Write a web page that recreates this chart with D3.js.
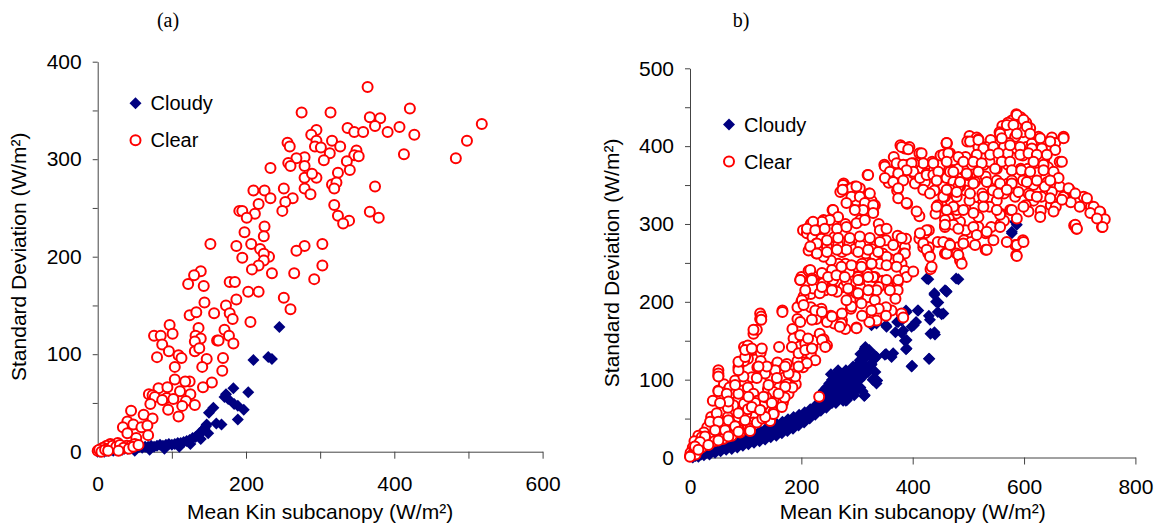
<!DOCTYPE html>
<html>
<head>
<meta charset="utf-8">
<script src="https://cdn.jsdelivr.net/npm/d3@7"></script>
<style>
  body { margin: 0; background: #fff; }
  svg text { font-family: "Liberation Sans", Arial, sans-serif; }
</style>
</head>
<body>
<div id="chart"></div>
<script>
// panel (a) values: [mean Kin, standard deviation]
var clearA = [[364,374],[275,348],[314,348],[421,352],[518,336],[367,343],[381,342],[374,334],[407,333],[337,332],[346,328],[358,328],[391,328],[427,325],[295,330],[288,325],[295,319],[316,319],[498,319],[256,317],[259,313],[327,313],[293,313],[301,312],[349,309],[313,306],[346,304],[352,303],[413,305],[483,301],[279,302],[268,301],[257,296],[260,293],[279,293],[305,299],[336,298],[233,291],[324,286],[340,289],[279,281],[295,281],[289,285],[316,274],[322,276],[319,270],[279,270],[287,264],[374,272],[210,268],[225,268],[251,270],[233,260],[263,260],[217,254],[253,256],[249,247],[212,244],[191,247],[195,247],[367,246],[319,253],[324,242],[339,237],[331,234],[379,240],[201,240],[198,225],[225,231],[224,221],[152,213],[207,213],[187,211],[279,211],[303,213],[219,208],[231,200],[224,203],[195,199],[268,206],[224,196],[217,191],[303,191],[208,187],[235,183],[265,183],[292,177],[139,185],[130,181],[122,172],[143,170],[178,174],[185,174],[203,164],[217,164],[144,153],[187,156],[173,150],[251,158],[260,146],[124,140],[133,143],[157,142],[178,142],[182,136],[206,133],[136,127],[76,119],[85,119],[97,130],[101,121],[132,119],[139,116],[161,114],[163,114],[171,125],[177,119],[183,111],[131,113],[131,103],[137,106],[87,110],[96,103],[80,97],[109,99],[113,96],[169,96],[147,95],[104,87],[141,87],[168,83],[104,74],[124,72],[118,72],[154,71],[142,66],[82,65],[94,66],[69,59],[74,58],[111,62],[125,59],[93,55],[77,56],[102,54],[119,52],[87,53],[114,47],[131,48],[71,49],[95,43],[109,36],[45,42],[40,31],[62,38],[74,34],[48,28],[34,25],[59,25],[67,27],[40,19],[68,17],[52,14],[39,6],[45,6],[27,9],[17,8],[12,6],[7,4],[0,1],[2,2],[22,4],[32,3],[50,8],[5,0],[10,2],[15,3],[20,6],[25,5],[30,7],[35,4],[42,3],[48,5],[55,7],[14,1],[28,1]];

var cloudyA = [[0,0],[3,0],[6,1],[9,0],[12,1],[15,1],[18,2],[21,1],[24,2],[27,2],[30,3],[33,2],[36,3],[40,3],[44,4],[48,3],[52,4],[56,5],[60,4],[64,5],[68,5],[72,6],[76,5],[80,6],[84,7],[88,6],[92,7],[96,8],[100,7],[104,8],[108,9],[112,9],[116,10],[120,11],[124,12],[128,14],[132,15],[136,17],[140,20],[143,23],[146,26],[245,128],[210,94],[230,97],[235,95],[183,65],[173,59],[203,61],[176,54],[184,49],[189,47],[197,43],[156,45],[150,40],[167,28],[189,33],[144,24],[137,19],[139,13],[149,19],[147,28],[171,56],[160,29],[50,1],[70,2],[90,3],[110,5],[125,8]];

// panel (b) values
var clearB = [[586,441],[594,437],[578,433],[604,430],[571,430],[561,426],[611,423],[586,426],[598,418],[556,418],[558,412],[584,412],[573,404],[671,412],[650,411],[626,412],[656,404],[631,397],[614,395],[604,399],[502,413],[515,411],[518,409],[498,406],[540,408],[531,399],[518,399],[548,393],[564,399],[598,388],[621,386],[636,382],[664,380],[643,373],[624,366],[594,371],[571,376],[551,371],[528,376],[515,382],[495,386],[478,382],[461,403],[450,388],[435,380],[419,378],[412,391],[394,399],[378,401],[386,397],[366,386],[349,376],[359,363],[373,369],[357,353],[372,343],[390,326],[392,376],[402,365],[425,365],[429,352],[445,365],[465,369],[472,361],[498,363],[512,354],[531,361],[551,356],[571,352],[598,356],[617,350],[642,354],[657,361],[664,348],[650,341],[671,335],[681,345],[690,339],[697,330],[707,335],[714,326],[720,322],[727,313],[737,315],[743,305],[740,296],[690,298],[694,294],[684,328],[648,324],[630,317],[617,330],[603,324],[598,279],[586,260],[584,273],[575,318],[558,313],[558,300],[541,296],[531,288],[518,309],[518,296],[505,288],[495,292],[492,279],[505,277],[531,267],[485,303],[478,313],[465,307],[468,330],[458,335],[445,324],[441,313],[458,296],[465,275],[481,270],[485,253],[458,262],[445,277],[429,270],[422,288],[429,292],[412,281],[419,270],[428,262],[432,242],[425,292],[412,310],[407,316],[564,304],[551,330],[538,322],[525,326],[512,322],[502,330],[495,343],[485,348],[475,339],[455,348],[439,343],[525,339],[544,343],[564,339],[584,335],[608,339],[631,335],[637,348],[657,322],[634,384],[614,403],[586,397],[571,391],[607,371],[578,356],[538,380],[505,376],[492,369],[481,371],[438,369],[422,354],[402,378],
  [319,363],[276,352],[279,348],[296,348],[270,341],[293,339],[299,330],[322,339],[326,330],[332,324],[329,315],[256,318],[240,305],[259,305],[279,300],[306,305],[339,300],[343,292],[352,279],[373,285],[380,277],[386,270],[388,281],[383,262],[380,249],[386,240],[373,225],[373,215],[369,204],[362,189],[352,193],[380,185],[383,180],[203,292],[210,288],[217,300],[227,296],[220,283],[227,275],[236,281],[246,270],[259,283],[266,273],[273,264],[286,277],[296,268],[306,273],[316,262],[326,268],[332,258],[346,262],[359,255],[341,249],[326,249],[309,249],[296,245],[279,249],[266,249],[253,253],[240,258],[227,262],[213,266],[200,232],[213,240],[223,232],[233,223],[246,227],[259,232],[273,236],[286,238],[302,232],[319,236],[332,232],[346,227],[356,219],[339,219],[322,215],[306,219],[289,215],[276,219],[259,215],[243,215],[230,215],[217,210],[200,200],[193,193],[217,193],[230,189],[236,191],[253,182],[273,176],[273,185],[289,191],[306,202],[319,206],[332,202],[339,191],[352,182],[335,176],[322,174],[309,182],[299,167],[279,165],[259,172],[246,174],[227,178],[193,178],[184,165],[193,155],[207,146],[220,142],[205,135],[193,124],[203,116],[223,150],[233,159],[240,152],[246,144],[217,133],[160,142],[166,189],[185,103],[190,94],
  [126,185],[126,178],[114,159],[97,142],[104,144],[113,138],[127,135],[127,124],[121,116],[104,127],[97,124],[87,116],[51,112],[51,105],[41,73],[38,52],[51,86],[61,94],[64,84],[71,90],[81,99],[81,82],[87,75],[94,86],[104,90],[111,103],[114,82],[121,73],[131,67],[140,88],[144,103],[150,116],[157,122],[164,112],[170,103],[174,120],[187,107],[174,94],[160,90],[150,84],[137,77],[127,60],[114,52],[101,56],[81,58],[68,52],[61,43],[48,36],[41,30],[54,30],[68,34],[81,41],[94,45],[107,67],[97,69],[78,67],[68,64],[31,39],[25,32],[15,28],[8,21],[21,26],[28,21],[18,17],[5,13],[0,2],[1,6],[8,9],[15,11],[21,13],[34,17],[44,21],[58,24],[68,28],[78,32],[87,36],[104,41],[114,45],[134,52],[144,47],[150,56],[167,71],[177,82],[184,90],[170,77],[87,52],[104,62],[232,78],[150,58],[108,37],[120,45],[130,50],[90,32],[75,28],[60,24],[3,3],[10,4],[12,15],
  [380,399],[392,396],[416,391],[461,404],[455,389],[467,391],[473,382],[482,386],[350,374],[359,367],[371,378],[383,376],[398,378],[401,367],[389,369],[374,365],[350,359],[365,354],[383,356],[404,352],[413,359],[425,363],[437,378],[437,363],[446,367],[443,356],[419,344],[431,339],[461,359],[467,367],[473,354],[482,348],[467,344],[455,335],[479,335],[443,322],[461,318],[479,318],[458,305],[473,299],[374,346],[374,333],[389,327],[320,363],[275,350],[281,344],[290,346],[305,346],[290,335],[305,335],[323,339],[314,327],[329,324],[329,314],[311,318],[296,318],[281,327],[257,318],[266,309],[251,305],[237,303],[221,303],[210,294],[225,292],[242,294],[264,294],[281,296],[299,301],[314,305],[341,292],[353,294],[228,275],[216,271],[246,279],[266,282],[287,282],[305,284],[323,282],[341,277],[365,273],[380,282],[386,262],[374,256],[353,258],[338,264],[320,267],[302,264],[281,267],[264,267],[246,264],[228,262],[216,241],[198,228],[219,230],[237,237],[255,241],[272,245],[290,247],[308,245],[326,249],[353,247],[371,245],[389,232],[401,239],[374,228],[353,228],[329,232],[305,228],[281,226],[257,228],[239,224],[221,217],[204,207],[233,211],[264,213],[299,211],[335,215],[359,215],[413,288],[419,275],[425,267],[431,258],[434,245],[455,277],[467,271],[461,262],[479,262],[274,344],[299,348],
  [587,440],[599,434],[569,427],[581,427],[605,425],[557,416],[587,416],[611,416],[671,410],[647,406],[629,410],[560,410],[503,406],[518,408],[461,404],[527,397],[545,399],[575,401],[593,399],[614,397],[632,397],[656,395],[464,391],[515,389],[539,389],[554,391],[593,389],[608,391],[623,389],[641,389],[461,380],[491,380],[509,380],[524,378],[560,380],[575,380],[617,380],[635,376],[668,380],[473,367],[497,365],[518,367],[548,371],[578,369],[595,369],[611,367],[635,369],[653,367],[662,359],[647,356],[623,356],[605,354],[578,352],[557,352],[533,354],[509,352],[485,354],[461,344],[479,341],[503,339],[527,335],[554,339],[569,344],[590,341],[611,337],[623,335],[647,333],[668,331],[680,346],[692,339],[713,333],[700,322],[725,322],[719,314],[736,316],[745,306],[731,307],[741,296],[692,299],[695,294],[653,316],[629,309],[608,316],[599,322],[578,318],[587,307],[557,312],[551,318],[527,322],[509,314],[491,318],[473,322],[461,318],[458,299],[482,294],[509,296],[515,286],[533,290],[557,296],[545,279],[533,267],[512,273],[491,275],[482,260],[488,249],[461,262],[467,273],[569,277],[587,273],[587,259],[599,277],
  [198,228],[219,228],[248,232],[263,234],[278,232],[302,228],[320,232],[207,215],[237,219],[255,215],[284,217],[302,211],[320,215],[201,202],[204,196],[225,189],[237,187],[255,181],[272,172],[290,194],[281,202],[308,198],[326,189],[299,166],[269,168],[219,177],[198,174],[186,153],[198,157],[212,153],[183,142],[195,134],[207,138],[219,140],[237,151],[243,142],[225,125],[210,121],[195,117],[189,104],[177,108],[171,117],[153,112],[156,102],[171,91],[159,82],[135,108],[138,117],[123,117],[120,102],[141,93],[132,78],[117,70],[105,78],[87,82],[81,93],[96,104],[87,112],[87,123],[99,129],[99,138],[111,140],[120,164],[114,164],[129,140],[128,181],[128,177],[166,187],[51,108],[51,104],[51,85],[66,82],[69,72],[54,70],[48,57],[36,46],[51,46],[69,48],[87,57],[111,65],[99,48],[81,40],[63,35],[45,35],[27,27],[18,20],[9,14],[0,1],[15,10],[33,16],[51,22],[69,27],[87,33],[108,34],[150,56],[165,65],[147,70],[135,52],[126,61]];

var cloudyB = [[5,0],[15,1],[25,3],[35,4],[45,6],[55,8],[65,10],[75,11],[85,13],[95,15],[105,17],[115,19],[125,21],[135,23],[145,26],[155,28],[165,31],[175,34],[185,37],[195,41],[205,45],[215,50],[225,55],[235,60],[245,64],[255,70],[265,74],[275,78],[285,82],[295,85],
  [4,2],[14,5],[24,8],[36,10],[46,12],[56,14],[66,17],[76,19],[86,22],[96,25],[106,28],[116,31],[126,34],[136,37],[146,40],[156,43],[166,46],[176,49],[186,52],[196,55],[206,58],[216,62],[226,67],[236,73],
  [10,2],[20,4],[30,6],[40,8],[50,10],[60,12],[70,14],[80,16],[90,19],[100,21],[110,24],[120,26],[130,29],[140,31],[150,34],[160,37],[170,40],[180,44],[190,47],[200,50],[210,54],[220,59],[230,64],[240,68],
  [235,80],[240,75],[242,85],[245,90],[248,82],[250,95],[252,88],[255,100],[258,92],[260,85],[262,105],[265,95],[268,110],[270,100],[272,88],[275,105],[278,95],[280,112],[282,100],[285,90],[288,108],[290,98],[292,115],[295,104],[298,92],[300,110],[302,120],[305,100],[308,115],[310,125],[312,105],[315,118],[318,130],[320,110],[322,138],[325,120],[328,100],[330,126],[333,110],[336,99],[270,78],[280,82],[290,86],[258,76],[250,72],[262,70],[275,73],[285,78],[295,80],[300,88],[310,85],
  [315,142],[306,133],[332,131],[352,133],[362,129],[336,99],[313,116],[326,120],[300,107],[266,112],[253,107],[259,99],[280,94],[306,90],[313,79],[280,73],[293,82],[240,86],[250,90],[326,170],[335,172],[352,170],[372,174],[369,161],[383,163],[386,150],[388,139],[399,118],[402,170],[406,174],[409,189],[429,182],[432,159],[439,161],[429,127],[445,187],[442,200],[455,185],[425,230],[458,215],[478,230],[439,211],[578,290],[584,303],[388,189],[380,176],
  [482,229],[428,229],[460,214],[439,209],[446,199],[410,189],[452,184],[431,177],[389,187],[398,168],[374,174],[380,160],[389,151],[389,140],[440,158],[430,127],[398,117],[353,168],[323,174],[365,134],[350,132],[335,129],[314,140],[305,125],[293,117],[326,119],[282,108],[305,104],[329,100],[296,91],[282,74],[314,80],[335,95],[587,299],[578,288],[461,213]];

var yTicksA = d3.range(0, 401, 50);
var xTicksA = d3.range(0, 601, 100);
var yTicksB = d3.range(0, 501, 50);
var xTicksB = d3.range(0, 801, 200);

var width = 1159, height = 525;

var svg = d3.select("#chart")
  .append("svg")
  .attr("width", width)
  .attr("height", height);

var diamond = d3.symbol().type(d3.symbolSquare).size(72);
var circleR = 5;

function panel(opt) {
  var x = d3.scaleLinear().domain(opt.xDomain).range(opt.xRange);
  var y = d3.scaleLinear().domain(opt.yDomain).range(opt.yRange);

  var g = svg.append("g");

  var yAxis = d3.axisLeft(y)
    .tickValues(opt.yTicks)
    .tickSize(5)
    .tickSizeOuter(0)
    .tickPadding(11)
    .tickFormat(function(d) { return d % 100 === 0 ? d : ""; });

  var xAxis = d3.axisBottom(x)
    .tickValues(opt.xTicks)
    .tickSize(7)
    .tickSizeOuter(0)
    .tickPadding(opt.xPad)
    .tickFormat(function(d) { return d % 200 === 0 ? d : ""; });

  var ya = g.append("g")
    .attr("transform", "translate(" + opt.xRange[0] + ",0)")
    .call(yAxis);
  var xa = g.append("g")
    .attr("transform", "translate(0," + opt.yRange[0] + ")")
    .call(xAxis);

  [ya, xa].forEach(function(a) {
    a.select(".domain").attr("stroke", "#444");
    a.selectAll(".tick line").attr("stroke", "#444");
    a.selectAll(".tick text")
      .attr("fill", "#000")
      .style("font-size", "21px")
      .style("font-family", "'Liberation Sans', Arial, sans-serif");
  });
  xa.selectAll(".tick").filter(function(d) { return d === 0; }).select("line").remove();

  // cloudy under clear
  g.selectAll(".cloudy")
    .data(opt.cloudy)
    .enter().append("path")
    .attr("class", "cloudy")
    .attr("d", diamond)
    .attr("transform", function(d) {
      return "translate(" + x(d[0]) + "," + y(d[1]) + ") rotate(45)";
    })
    .attr("fill", "#000080");

  g.selectAll(".clear")
    .data(opt.clear)
    .enter().append("circle")
    .attr("class", "clear")
    .attr("cx", function(d) { return x(d[0]); })
    .attr("cy", function(d) { return y(d[1]); })
    .attr("r", circleR)
    .attr("fill", "#fff")
    .attr("stroke", "#ff0000")
    .attr("stroke-width", 2);

  // legend
  g.append("path")
    .attr("d", diamond)
    .attr("transform", "translate(" + opt.legend[0] + "," + opt.legend[1] + ") rotate(45)")
    .attr("fill", "#000080");
  g.append("circle")
    .attr("cx", opt.legend[0])
    .attr("cy", opt.legend[1] + 37)
    .attr("r", circleR)
    .attr("fill", "#fff")
    .attr("stroke", "#ff0000")
    .attr("stroke-width", 2);
  g.append("text")
    .attr("x", opt.legend[0] + 15)
    .attr("y", opt.legend[1] + 7)
    .style("font-size", "20px")
    .text("Cloudy");
  g.append("text")
    .attr("x", opt.legend[0] + 15)
    .attr("y", opt.legend[1] + 44)
    .style("font-size", "20px")
    .text("Clear");

  // axis titles
  g.append("text")
    .attr("x", (opt.xRange[0] + opt.xRange[1]) / 2)
    .attr("y", opt.xTitleY)
    .attr("text-anchor", "middle")
    .style("font-size", "21px")
    .text("Mean Kin subcanopy (W/m²)");
  g.append("text")
    .attr("transform", "translate(" + opt.yTitleX + "," + (opt.yRange[0] + opt.yRange[1]) / 2 + ") rotate(-90)")
    .attr("text-anchor", "middle")
    .style("font-size", "21px")
    .text("Standard Deviation (W/m²)");

  g.append("text")
    .attr("x", opt.tag[0])
    .attr("y", opt.tag[1])
    .attr("text-anchor", "middle")
    .style("font-family", "'Liberation Serif', 'Times New Roman', serif")
    .style("font-size", "20px")
    .text(opt.tagText);
}

panel({
  xDomain: [0, 600], xRange: [97.7, 542.6],
  yDomain: [0, 400], yRange: [451.7, 61.7],
  xTicks: xTicksA, yTicks: yTicksA, xPad: 17,
  clear: clearA, cloudy: cloudyA,
  legend: [135.5, 103.3],
  xTitleY: 519, yTitleX: 26,
  tag: [168, 27], tagText: "(a)"
});

panel({
  xDomain: [0, 800], xRange: [690, 1135.4],
  yDomain: [0, 500], yRange: [457.5, 68.3],
  xTicks: xTicksB, yTicks: yTicksB, xPad: 15,
  clear: clearB, cloudy: cloudyB,
  legend: [729, 124.5],
  xTitleY: 519, yTitleX: 618.5,
  tag: [741, 27], tagText: "b)"
});
</script>
</body>
</html>
